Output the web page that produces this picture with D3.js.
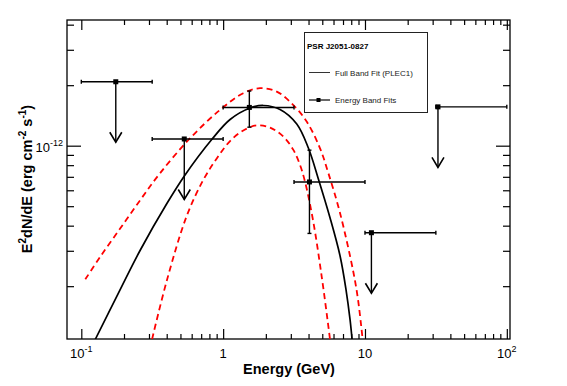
<!DOCTYPE html>
<meta charset="utf-8">
<style>
body { margin: 0; background: #fff; }
text { font-family: "Liberation Sans", Arial, sans-serif; }
.axis .domain { display: none; }
.axis line { stroke: #000; stroke-width: 1.2; }
</style>
<svg width="567" height="386"></svg>
<script src="https://d3js.org/d3.v7.min.js"></script>
<script>

// full band PLEC1 fit (GeV, erg cm^-2 s^-1)
var fitE = [0.1255, 0.1786, 0.2607, 0.4021, 0.5387, 0.8310, 1.119, 1.548, 1.920, 2.519, 3.304, 3.990, 4.692, 5.675, 6.674, 7.357, 7.852, 8.177];
var fitF = [0.1088e-12, 0.1788e-12, 0.3028e-12, 0.5169e-12, 0.7150e-12, 1.073e-12, 1.350e-12, 1.540e-12, 1.585e-12, 1.514e-12, 1.282e-12, 0.974e-12, 0.6831e-12, 0.4368e-12, 0.2827e-12, 0.1914e-12, 0.1358e-12, 0.1020e-12];

// 1 sigma band, upper and lower edge
var upE = [0.1067, 0.1361, 0.1884, 0.2606, 0.3589, 0.5848, 0.9506, 1.387, 1.820, 2.388, 3.126, 3.890, 4.819, 5.521, 6.668, 8.279, 8.940, 9.638];
var upF = [0.2163e-12, 0.2805e-12, 0.3882e-12, 0.5369e-12, 0.7295e-12, 1.089e-12, 1.507e-12, 1.824e-12, 1.932e-12, 1.858e-12, 1.592e-12, 1.315e-12, 0.9705e-12, 0.7295e-12, 0.4626e-12, 0.2352e-12, 0.1707e-12, 0.1079e-12];
var loE = [0.3155, 0.4018, 0.5534, 0.7244, 0.9016, 1.119, 1.387, 1.726, 2.143, 2.661, 3.126, 3.483, 3.784, 4.325, 4.955, 5.521, 5.675];
var loF = [0.1089e-12, 0.2148e-12, 0.4468e-12, 0.6753e-12, 0.8637e-12, 1.055e-12, 1.190e-12, 1.262e-12, 1.230e-12, 1.109e-12, 0.9528e-12, 0.8017e-12, 0.659e-12, 0.4169e-12, 0.2228e-12, 0.1259e-12, 0.1079e-12];

// energy band fits
var binLo = [0.1, 0.316, 1, 3.16, 10, 31.6];
var binHi = [0.316, 1, 3.16, 10, 31.6, 100];
var bandE = [0.175, 0.532, 1.53, 4.06, 11.1, 32.7];
var bandF = [2.08e-12, 1.08e-12, 1.55e-12, 0.66e-12, 0.369e-12, 1.56e-12];
var errLo = [null, null, 1.236e-12, 0.366e-12, null, null];
var errHi = [null, null, 1.87e-12, 0.95e-12, null, null];
var isLimit = [true, true, false, false, true, true];

var xMajor = [0.1, 1, 10, 100];
var xLabels = [["10", "-1"], ["1", ""], ["10", ""], ["10", "2"]];

var svg = d3.select("svg"),
    plotL = 67, plotR = 510, plotT = 20, plotB = 339;

var x = d3.scaleLog().domain([0.07927, 105.3]).range([plotL, plotR]);
var y = d3.scaleLog().domain([1.092e-13, 4.22e-12]).range([plotB, plotT]);

var xMinor = [], yMinor = [];
[0.1, 1, 10].forEach(function(d) {
  for (var k = 2; k <= 9; k++) xMinor.push(d * k);
});
for (var k = 2; k <= 9; k++) yMinor.push(k * 1e-13);
for (var k = 2; k <= 4; k++) yMinor.push(k * 1e-12);

// ticks on all four sides, pointing in
function ax(gen, vals, size, tx) {
  svg.append("g")
      .attr("class", "axis")
      .attr("transform", tx)
      .call(gen.tickValues(vals).tickSize(-size).tickFormat(""));
}
ax(d3.axisBottom(x), xMajor, 10, "translate(0," + plotB + ")");
ax(d3.axisBottom(x), xMinor, 5, "translate(0," + plotB + ")");
ax(d3.axisTop(x), xMajor, 10, "translate(0," + plotT + ")");
ax(d3.axisTop(x), xMinor, 5, "translate(0," + plotT + ")");
ax(d3.axisLeft(y), [1e-12], 14, "translate(" + plotL + ",0)");
ax(d3.axisLeft(y), yMinor, 7, "translate(" + plotL + ",0)");
ax(d3.axisRight(y), [1e-12], 14, "translate(" + plotR + ",0)");
ax(d3.axisRight(y), yMinor, 7, "translate(" + plotR + ",0)");

svg.append("rect")
    .attr("x", plotL).attr("y", plotT)
    .attr("width", plotR - plotL).attr("height", plotB - plotT)
    .attr("fill", "none").attr("stroke", "#000").attr("stroke-width", 1.3);

// tick labels
var xl = svg.append("g").attr("font-size", 13).attr("text-anchor", "middle");
xMajor.forEach(function(v, i) {
  var t = xl.append("text").attr("x", x(v)).attr("y", 358);
  t.append("tspan").text(xLabels[i][0]);
  if (xLabels[i][1]) t.append("tspan").attr("font-size", 9).attr("dy", -6).text(xLabels[i][1]);
});
var yl = svg.append("text").attr("font-size", 13).attr("text-anchor", "end")
    .attr("x", 63).attr("y", y(1e-12) + 6);
yl.append("tspan").text("10");
yl.append("tspan").attr("font-size", 9).attr("dy", -6).text("-12");

// axis titles
svg.append("text")
    .attr("x", 289).attr("y", 374)
    .attr("text-anchor", "middle")
    .attr("font-size", 14.5).attr("font-weight", "bold")
    .text("Energy (GeV)");

var yt = svg.append("text")
    .attr("transform", "translate(32,179) rotate(-90)")
    .attr("text-anchor", "middle")
    .attr("font-size", 14.5).attr("font-weight", "bold");
yt.append("tspan").text("E");
yt.append("tspan").attr("font-size", 10).attr("dy", -6).text("2");
yt.append("tspan").attr("dy", 6).text("dN/dE (erg cm");
yt.append("tspan").attr("font-size", 10).attr("dy", -6).text("-2");
yt.append("tspan").attr("dy", 6).text(" s");
yt.append("tspan").attr("font-size", 10).attr("dy", -6).text("-1");
yt.append("tspan").attr("dy", 6).text(")");

// curves
svg.append("clipPath").attr("id", "plot")
  .append("rect")
    .attr("x", plotL).attr("y", plotT)
    .attr("width", plotR - plotL).attr("height", plotB - plotT);

var line = d3.line()
    .x(function(d) { return x(d[0]); })
    .y(function(d) { return y(d[1]); })
    .curve(d3.curveCatmullRom);

var curves = svg.append("g").attr("clip-path", "url(#plot)").attr("fill", "none");

curves.append("path")
    .attr("d", line(d3.zip(upE, upF)))
    .attr("stroke", "#ff0000").attr("stroke-width", 1.8)
    .attr("stroke-dasharray", "6,4");
curves.append("path")
    .attr("d", line(d3.zip(loE, loF)))
    .attr("stroke", "#ff0000").attr("stroke-width", 1.8)
    .attr("stroke-dasharray", "6,4");
curves.append("path")
    .attr("d", line(d3.zip(fitE, fitF)))
    .attr("stroke", "#000").attr("stroke-width", 1.7);

// band points
var pts = svg.append("g").attr("stroke", "#000").attr("stroke-width", 1.4);
bandE.forEach(function(e, i) {
  var cx = x(e), cy = y(bandF[i]);
  pts.append("line").attr("x1", x(binLo[i])).attr("x2", x(binHi[i])).attr("y1", cy).attr("y2", cy);
  pts.append("line").attr("x1", x(binLo[i])).attr("x2", x(binLo[i])).attr("y1", cy - 2).attr("y2", cy + 2);
  pts.append("line").attr("x1", x(binHi[i])).attr("x2", x(binHi[i])).attr("y1", cy - 2).attr("y2", cy + 2);
  if (isLimit[i]) {
    var tip = y(bandF[i] * 0.5);
    pts.append("line").attr("x1", cx).attr("x2", cx).attr("y1", cy).attr("y2", tip);
    pts.append("path").attr("fill", "none").attr("stroke-width", 1.6)
        .attr("d", "M" + (cx - 6) + "," + (tip - 10) + "L" + cx + "," + tip + "L" + (cx + 6) + "," + (tip - 10));
  } else {
    var y1 = y(errHi[i]), y2 = y(errLo[i]);
    pts.append("line").attr("x1", cx).attr("x2", cx).attr("y1", y1).attr("y2", y2);
    pts.append("line").attr("x1", cx - 2).attr("x2", cx + 2).attr("y1", y1).attr("y2", y1);
    pts.append("line").attr("x1", cx - 2).attr("x2", cx + 2).attr("y1", y2).attr("y2", y2);
  }
  pts.append("rect").attr("x", cx - 2.5).attr("y", cy - 2.5).attr("width", 5).attr("height", 5)
      .attr("fill", "#000").attr("stroke", "none");
});

// legend
var lg = svg.append("g").attr("font-size", 8);
lg.append("rect")
    .attr("x", 304.5).attr("y", 32.5).attr("width", 123).attr("height", 80)
    .attr("fill", "#fff").attr("stroke", "#222").attr("stroke-width", 1);
lg.append("text").attr("x", 307).attr("y", 48.5).attr("font-weight", "bold").text("PSR J2051-0827");
lg.append("line").attr("x1", 309).attr("x2", 330).attr("y1", 72.5).attr("y2", 72.5)
    .attr("stroke", "#333").attr("stroke-width", 1);
lg.append("text").attr("x", 335).attr("y", 75.5).attr("fill", "#222").text("Full Band Fit (PLEC1)");
lg.append("line").attr("x1", 309).attr("x2", 330).attr("y1", 100).attr("y2", 100)
    .attr("stroke", "#000").attr("stroke-width", 1.2);
lg.append("rect").attr("x", 316.5).attr("y", 98).attr("width", 4).attr("height", 4).attr("fill", "#000");
lg.append("text").attr("x", 335).attr("y", 103).attr("fill", "#222").text("Energy Band Fits");

</script>
